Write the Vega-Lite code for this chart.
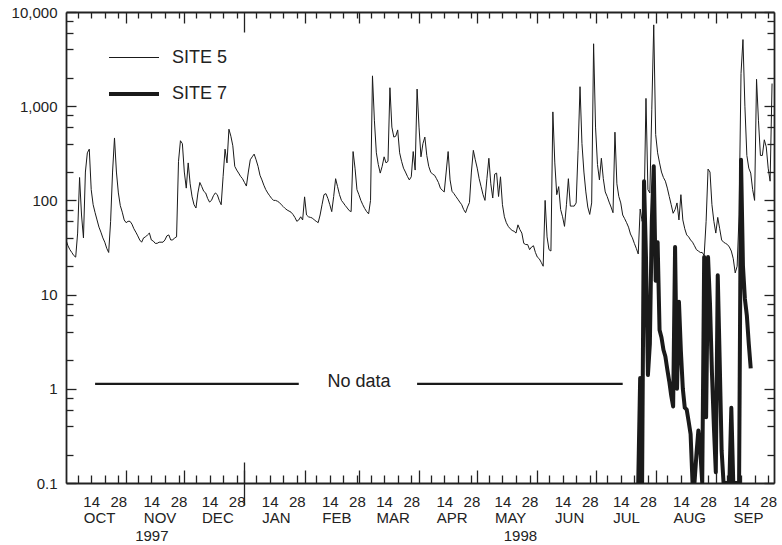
{
  "$schema": "https://vega.github.io/schema/vega-lite/v6.json",
  "width": 708,
  "height": 471,
  "autosize": {"type": "none"},
  "padding": {"left": 66, "top": 12, "right": 8, "bottom": 62},
  "background": "white",
  "config": {
    "view": {"stroke": null},
    "font": "Liberation Sans",
    "axis": {
      "grid": false,
      "domainColor": "#222",
      "domainWidth": 1.8,
      "tickColor": "#222",
      "tickWidth": 1.3,
      "labelColor": "#222",
      "labelFont": "Liberation Sans",
      "labelFontSize": 15,
      "labelFlush": false,
      "labelOverlap": false
    }
  },
  "datasets": {
    "flow": [
      {"date":"1997-10-01","site":"SITE 5","value":38},{"date":"1997-10-02","site":"SITE 5","value":33},{"date":"1997-10-03","site":"SITE 5","value":30},{"date":"1997-10-04","site":"SITE 5","value":28},{"date":"1997-10-05","site":"SITE 5","value":26},{"date":"1997-10-06","site":"SITE 5","value":25},{"date":"1997-10-07","site":"SITE 5","value":45},{"date":"1997-10-08","site":"SITE 5","value":175},{"date":"1997-10-09","site":"SITE 5","value":70},{"date":"1997-10-10","site":"SITE 5","value":40},{"date":"1997-10-11","site":"SITE 5","value":200},{"date":"1997-10-12","site":"SITE 5","value":320},{"date":"1997-10-13","site":"SITE 5","value":350},{"date":"1997-10-14","site":"SITE 5","value":130},{"date":"1997-10-15","site":"SITE 5","value":90},{"date":"1997-10-16","site":"SITE 5","value":74},{"date":"1997-10-17","site":"SITE 5","value":62},{"date":"1997-10-18","site":"SITE 5","value":52},{"date":"1997-10-19","site":"SITE 5","value":46},{"date":"1997-10-20","site":"SITE 5","value":40},{"date":"1997-10-21","site":"SITE 5","value":36},{"date":"1997-10-22","site":"SITE 5","value":31},{"date":"1997-10-23","site":"SITE 5","value":28},{"date":"1997-10-24","site":"SITE 5","value":60},{"date":"1997-10-25","site":"SITE 5","value":200},{"date":"1997-10-26","site":"SITE 5","value":460},{"date":"1997-10-27","site":"SITE 5","value":200},{"date":"1997-10-28","site":"SITE 5","value":120},{"date":"1997-10-29","site":"SITE 5","value":88},{"date":"1997-10-30","site":"SITE 5","value":75},{"date":"1997-10-31","site":"SITE 5","value":62},
      {"date":"1997-11-01","site":"SITE 5","value":58},{"date":"1997-11-02","site":"SITE 5","value":60},{"date":"1997-11-03","site":"SITE 5","value":60},{"date":"1997-11-04","site":"SITE 5","value":56},{"date":"1997-11-05","site":"SITE 5","value":50},{"date":"1997-11-06","site":"SITE 5","value":46},{"date":"1997-11-07","site":"SITE 5","value":42},{"date":"1997-11-08","site":"SITE 5","value":38},{"date":"1997-11-09","site":"SITE 5","value":36},{"date":"1997-11-10","site":"SITE 5","value":40},{"date":"1997-11-11","site":"SITE 5","value":41},{"date":"1997-11-12","site":"SITE 5","value":43},{"date":"1997-11-13","site":"SITE 5","value":45},{"date":"1997-11-14","site":"SITE 5","value":38},{"date":"1997-11-15","site":"SITE 5","value":37},{"date":"1997-11-16","site":"SITE 5","value":35},{"date":"1997-11-17","site":"SITE 5","value":35},{"date":"1997-11-18","site":"SITE 5","value":36},{"date":"1997-11-19","site":"SITE 5","value":36},{"date":"1997-11-20","site":"SITE 5","value":36},{"date":"1997-11-21","site":"SITE 5","value":38},{"date":"1997-11-22","site":"SITE 5","value":42},{"date":"1997-11-23","site":"SITE 5","value":43},{"date":"1997-11-24","site":"SITE 5","value":38},{"date":"1997-11-25","site":"SITE 5","value":38},{"date":"1997-11-26","site":"SITE 5","value":40},{"date":"1997-11-27","site":"SITE 5","value":41},{"date":"1997-11-28","site":"SITE 5","value":260},{"date":"1997-11-29","site":"SITE 5","value":430},{"date":"1997-11-30","site":"SITE 5","value":400},
      {"date":"1997-12-01","site":"SITE 5","value":200},{"date":"1997-12-02","site":"SITE 5","value":135},{"date":"1997-12-03","site":"SITE 5","value":250},{"date":"1997-12-04","site":"SITE 5","value":150},{"date":"1997-12-05","site":"SITE 5","value":109},{"date":"1997-12-06","site":"SITE 5","value":90},{"date":"1997-12-07","site":"SITE 5","value":83},{"date":"1997-12-08","site":"SITE 5","value":120},{"date":"1997-12-09","site":"SITE 5","value":155},{"date":"1997-12-10","site":"SITE 5","value":140},{"date":"1997-12-11","site":"SITE 5","value":125},{"date":"1997-12-12","site":"SITE 5","value":120},{"date":"1997-12-13","site":"SITE 5","value":105},{"date":"1997-12-14","site":"SITE 5","value":96},{"date":"1997-12-15","site":"SITE 5","value":100},{"date":"1997-12-16","site":"SITE 5","value":112},{"date":"1997-12-17","site":"SITE 5","value":120},{"date":"1997-12-18","site":"SITE 5","value":115},{"date":"1997-12-19","site":"SITE 5","value":100},{"date":"1997-12-20","site":"SITE 5","value":90},{"date":"1997-12-21","site":"SITE 5","value":180},{"date":"1997-12-22","site":"SITE 5","value":350},{"date":"1997-12-23","site":"SITE 5","value":250},{"date":"1997-12-24","site":"SITE 5","value":570},{"date":"1997-12-25","site":"SITE 5","value":480},{"date":"1997-12-26","site":"SITE 5","value":380},{"date":"1997-12-27","site":"SITE 5","value":230},{"date":"1997-12-28","site":"SITE 5","value":210},{"date":"1997-12-29","site":"SITE 5","value":195},{"date":"1997-12-30","site":"SITE 5","value":180},{"date":"1997-12-31","site":"SITE 5","value":170},
      {"date":"1998-01-01","site":"SITE 5","value":155},{"date":"1998-01-02","site":"SITE 5","value":142},{"date":"1998-01-03","site":"SITE 5","value":200},{"date":"1998-01-04","site":"SITE 5","value":270},{"date":"1998-01-05","site":"SITE 5","value":290},{"date":"1998-01-06","site":"SITE 5","value":310},{"date":"1998-01-07","site":"SITE 5","value":270},{"date":"1998-01-08","site":"SITE 5","value":230},{"date":"1998-01-09","site":"SITE 5","value":185},{"date":"1998-01-10","site":"SITE 5","value":165},{"date":"1998-01-11","site":"SITE 5","value":145},{"date":"1998-01-12","site":"SITE 5","value":130},{"date":"1998-01-13","site":"SITE 5","value":120},{"date":"1998-01-14","site":"SITE 5","value":112},{"date":"1998-01-15","site":"SITE 5","value":105},{"date":"1998-01-16","site":"SITE 5","value":100},{"date":"1998-01-17","site":"SITE 5","value":100},{"date":"1998-01-18","site":"SITE 5","value":98},{"date":"1998-01-19","site":"SITE 5","value":95},{"date":"1998-01-20","site":"SITE 5","value":90},{"date":"1998-01-21","site":"SITE 5","value":86},{"date":"1998-01-22","site":"SITE 5","value":82},{"date":"1998-01-23","site":"SITE 5","value":79},{"date":"1998-01-24","site":"SITE 5","value":77},{"date":"1998-01-25","site":"SITE 5","value":75},{"date":"1998-01-26","site":"SITE 5","value":71},{"date":"1998-01-27","site":"SITE 5","value":66},{"date":"1998-01-28","site":"SITE 5","value":60},{"date":"1998-01-29","site":"SITE 5","value":62},{"date":"1998-01-30","site":"SITE 5","value":67},{"date":"1998-01-31","site":"SITE 5","value":62},
      {"date":"1998-02-01","site":"SITE 5","value":109},{"date":"1998-02-02","site":"SITE 5","value":70},{"date":"1998-02-03","site":"SITE 5","value":67},{"date":"1998-02-04","site":"SITE 5","value":66},{"date":"1998-02-05","site":"SITE 5","value":65},{"date":"1998-02-06","site":"SITE 5","value":62},{"date":"1998-02-07","site":"SITE 5","value":60},{"date":"1998-02-08","site":"SITE 5","value":58},{"date":"1998-02-09","site":"SITE 5","value":70},{"date":"1998-02-10","site":"SITE 5","value":90},{"date":"1998-02-11","site":"SITE 5","value":115},{"date":"1998-02-12","site":"SITE 5","value":118},{"date":"1998-02-13","site":"SITE 5","value":105},{"date":"1998-02-14","site":"SITE 5","value":90},{"date":"1998-02-15","site":"SITE 5","value":76},{"date":"1998-02-16","site":"SITE 5","value":110},{"date":"1998-02-17","site":"SITE 5","value":170},{"date":"1998-02-18","site":"SITE 5","value":140},{"date":"1998-02-19","site":"SITE 5","value":115},{"date":"1998-02-20","site":"SITE 5","value":100},{"date":"1998-02-21","site":"SITE 5","value":94},{"date":"1998-02-22","site":"SITE 5","value":88},{"date":"1998-02-23","site":"SITE 5","value":83},{"date":"1998-02-24","site":"SITE 5","value":78},{"date":"1998-02-25","site":"SITE 5","value":76},{"date":"1998-02-26","site":"SITE 5","value":330},{"date":"1998-02-27","site":"SITE 5","value":220},{"date":"1998-02-28","site":"SITE 5","value":130},
      {"date":"1998-03-01","site":"SITE 5","value":115},{"date":"1998-03-02","site":"SITE 5","value":100},{"date":"1998-03-03","site":"SITE 5","value":90},{"date":"1998-03-04","site":"SITE 5","value":82},{"date":"1998-03-05","site":"SITE 5","value":76},{"date":"1998-03-06","site":"SITE 5","value":72},{"date":"1998-03-07","site":"SITE 5","value":100},{"date":"1998-03-08","site":"SITE 5","value":2100},{"date":"1998-03-09","site":"SITE 5","value":700},{"date":"1998-03-10","site":"SITE 5","value":320},{"date":"1998-03-11","site":"SITE 5","value":240},{"date":"1998-03-12","site":"SITE 5","value":195},{"date":"1998-03-13","site":"SITE 5","value":230},{"date":"1998-03-14","site":"SITE 5","value":290},{"date":"1998-03-15","site":"SITE 5","value":250},{"date":"1998-03-16","site":"SITE 5","value":260},{"date":"1998-03-17","site":"SITE 5","value":1570},{"date":"1998-03-18","site":"SITE 5","value":600},{"date":"1998-03-19","site":"SITE 5","value":470},{"date":"1998-03-20","site":"SITE 5","value":480},{"date":"1998-03-21","site":"SITE 5","value":560},{"date":"1998-03-22","site":"SITE 5","value":320},{"date":"1998-03-23","site":"SITE 5","value":260},{"date":"1998-03-24","site":"SITE 5","value":220},{"date":"1998-03-25","site":"SITE 5","value":200},{"date":"1998-03-26","site":"SITE 5","value":180},{"date":"1998-03-27","site":"SITE 5","value":165},{"date":"1998-03-28","site":"SITE 5","value":178},{"date":"1998-03-29","site":"SITE 5","value":330},{"date":"1998-03-30","site":"SITE 5","value":210},{"date":"1998-03-31","site":"SITE 5","value":1520},
      {"date":"1998-04-01","site":"SITE 5","value":600},{"date":"1998-04-02","site":"SITE 5","value":290},{"date":"1998-04-03","site":"SITE 5","value":400},{"date":"1998-04-04","site":"SITE 5","value":470},{"date":"1998-04-05","site":"SITE 5","value":300},{"date":"1998-04-06","site":"SITE 5","value":230},{"date":"1998-04-07","site":"SITE 5","value":200},{"date":"1998-04-08","site":"SITE 5","value":190},{"date":"1998-04-09","site":"SITE 5","value":185},{"date":"1998-04-10","site":"SITE 5","value":170},{"date":"1998-04-11","site":"SITE 5","value":155},{"date":"1998-04-12","site":"SITE 5","value":135},{"date":"1998-04-13","site":"SITE 5","value":128},{"date":"1998-04-14","site":"SITE 5","value":123},{"date":"1998-04-15","site":"SITE 5","value":200},{"date":"1998-04-16","site":"SITE 5","value":330},{"date":"1998-04-17","site":"SITE 5","value":165},{"date":"1998-04-18","site":"SITE 5","value":125},{"date":"1998-04-19","site":"SITE 5","value":118},{"date":"1998-04-20","site":"SITE 5","value":110},{"date":"1998-04-21","site":"SITE 5","value":103},{"date":"1998-04-22","site":"SITE 5","value":96},{"date":"1998-04-23","site":"SITE 5","value":90},{"date":"1998-04-24","site":"SITE 5","value":80},{"date":"1998-04-25","site":"SITE 5","value":74},{"date":"1998-04-26","site":"SITE 5","value":85},{"date":"1998-04-27","site":"SITE 5","value":95},{"date":"1998-04-28","site":"SITE 5","value":200},{"date":"1998-04-29","site":"SITE 5","value":340},{"date":"1998-04-30","site":"SITE 5","value":270},
      {"date":"1998-05-01","site":"SITE 5","value":220},{"date":"1998-05-02","site":"SITE 5","value":170},{"date":"1998-05-03","site":"SITE 5","value":140},{"date":"1998-05-04","site":"SITE 5","value":115},{"date":"1998-05-05","site":"SITE 5","value":100},{"date":"1998-05-06","site":"SITE 5","value":170},{"date":"1998-05-07","site":"SITE 5","value":280},{"date":"1998-05-08","site":"SITE 5","value":150},{"date":"1998-05-09","site":"SITE 5","value":106},{"date":"1998-05-10","site":"SITE 5","value":190},{"date":"1998-05-11","site":"SITE 5","value":195},{"date":"1998-05-12","site":"SITE 5","value":110},{"date":"1998-05-13","site":"SITE 5","value":178},{"date":"1998-05-14","site":"SITE 5","value":90},{"date":"1998-05-15","site":"SITE 5","value":67},{"date":"1998-05-16","site":"SITE 5","value":58},{"date":"1998-05-17","site":"SITE 5","value":53},{"date":"1998-05-18","site":"SITE 5","value":50},{"date":"1998-05-19","site":"SITE 5","value":48},{"date":"1998-05-20","site":"SITE 5","value":47},{"date":"1998-05-21","site":"SITE 5","value":45},{"date":"1998-05-22","site":"SITE 5","value":55},{"date":"1998-05-23","site":"SITE 5","value":49},{"date":"1998-05-24","site":"SITE 5","value":45},{"date":"1998-05-25","site":"SITE 5","value":35},{"date":"1998-05-26","site":"SITE 5","value":34},{"date":"1998-05-27","site":"SITE 5","value":34},{"date":"1998-05-28","site":"SITE 5","value":30},{"date":"1998-05-29","site":"SITE 5","value":32},{"date":"1998-05-30","site":"SITE 5","value":33},{"date":"1998-05-31","site":"SITE 5","value":28},
      {"date":"1998-06-01","site":"SITE 5","value":25},{"date":"1998-06-02","site":"SITE 5","value":24},{"date":"1998-06-03","site":"SITE 5","value":22},{"date":"1998-06-04","site":"SITE 5","value":20},{"date":"1998-06-05","site":"SITE 5","value":100},{"date":"1998-06-06","site":"SITE 5","value":41},{"date":"1998-06-07","site":"SITE 5","value":30},{"date":"1998-06-08","site":"SITE 5","value":29},{"date":"1998-06-09","site":"SITE 5","value":870},{"date":"1998-06-10","site":"SITE 5","value":250},{"date":"1998-06-11","site":"SITE 5","value":115},{"date":"1998-06-12","site":"SITE 5","value":140},{"date":"1998-06-13","site":"SITE 5","value":80},{"date":"1998-06-14","site":"SITE 5","value":67},{"date":"1998-06-15","site":"SITE 5","value":53},{"date":"1998-06-16","site":"SITE 5","value":90},{"date":"1998-06-17","site":"SITE 5","value":170},{"date":"1998-06-18","site":"SITE 5","value":87},{"date":"1998-06-19","site":"SITE 5","value":87},{"date":"1998-06-20","site":"SITE 5","value":87},{"date":"1998-06-21","site":"SITE 5","value":94},{"date":"1998-06-22","site":"SITE 5","value":340},{"date":"1998-06-23","site":"SITE 5","value":1610},{"date":"1998-06-24","site":"SITE 5","value":400},{"date":"1998-06-25","site":"SITE 5","value":200},{"date":"1998-06-26","site":"SITE 5","value":123},{"date":"1998-06-27","site":"SITE 5","value":85},{"date":"1998-06-28","site":"SITE 5","value":71},{"date":"1998-06-29","site":"SITE 5","value":94},{"date":"1998-06-30","site":"SITE 5","value":4600},
      {"date":"1998-07-01","site":"SITE 5","value":600},{"date":"1998-07-02","site":"SITE 5","value":240},{"date":"1998-07-03","site":"SITE 5","value":165},{"date":"1998-07-04","site":"SITE 5","value":280},{"date":"1998-07-05","site":"SITE 5","value":170},{"date":"1998-07-06","site":"SITE 5","value":123},{"date":"1998-07-07","site":"SITE 5","value":110},{"date":"1998-07-08","site":"SITE 5","value":96},{"date":"1998-07-09","site":"SITE 5","value":85},{"date":"1998-07-10","site":"SITE 5","value":74},{"date":"1998-07-11","site":"SITE 5","value":530},{"date":"1998-07-12","site":"SITE 5","value":150},{"date":"1998-07-13","site":"SITE 5","value":110},{"date":"1998-07-14","site":"SITE 5","value":94},{"date":"1998-07-15","site":"SITE 5","value":70},{"date":"1998-07-16","site":"SITE 5","value":64},{"date":"1998-07-17","site":"SITE 5","value":58},{"date":"1998-07-18","site":"SITE 5","value":52},{"date":"1998-07-19","site":"SITE 5","value":44},{"date":"1998-07-20","site":"SITE 5","value":40},{"date":"1998-07-21","site":"SITE 5","value":35},{"date":"1998-07-22","site":"SITE 5","value":31},{"date":"1998-07-23","site":"SITE 5","value":27},{"date":"1998-07-24","site":"SITE 5","value":81},{"date":"1998-07-25","site":"SITE 5","value":60},{"date":"1998-07-26","site":"SITE 5","value":73},{"date":"1998-07-27","site":"SITE 5","value":1210},{"date":"1998-07-28","site":"SITE 5","value":130},{"date":"1998-07-29","site":"SITE 5","value":120},{"date":"1998-07-30","site":"SITE 5","value":930},{"date":"1998-07-31","site":"SITE 5","value":7300},
      {"date":"1998-08-01","site":"SITE 5","value":500},{"date":"1998-08-02","site":"SITE 5","value":320},{"date":"1998-08-03","site":"SITE 5","value":250},{"date":"1998-08-04","site":"SITE 5","value":200},{"date":"1998-08-05","site":"SITE 5","value":175},{"date":"1998-08-06","site":"SITE 5","value":160},{"date":"1998-08-07","site":"SITE 5","value":135},{"date":"1998-08-08","site":"SITE 5","value":110},{"date":"1998-08-09","site":"SITE 5","value":90},{"date":"1998-08-10","site":"SITE 5","value":73},{"date":"1998-08-11","site":"SITE 5","value":80},{"date":"1998-08-12","site":"SITE 5","value":94},{"date":"1998-08-13","site":"SITE 5","value":62},{"date":"1998-08-14","site":"SITE 5","value":115},{"date":"1998-08-15","site":"SITE 5","value":62},{"date":"1998-08-16","site":"SITE 5","value":50},{"date":"1998-08-17","site":"SITE 5","value":43},{"date":"1998-08-18","site":"SITE 5","value":41},{"date":"1998-08-19","site":"SITE 5","value":38},{"date":"1998-08-20","site":"SITE 5","value":36},{"date":"1998-08-21","site":"SITE 5","value":33},{"date":"1998-08-22","site":"SITE 5","value":30},{"date":"1998-08-23","site":"SITE 5","value":29},{"date":"1998-08-24","site":"SITE 5","value":28},{"date":"1998-08-25","site":"SITE 5","value":28},{"date":"1998-08-26","site":"SITE 5","value":26},{"date":"1998-08-27","site":"SITE 5","value":60},{"date":"1998-08-28","site":"SITE 5","value":215},{"date":"1998-08-29","site":"SITE 5","value":200},{"date":"1998-08-30","site":"SITE 5","value":90},{"date":"1998-08-31","site":"SITE 5","value":60},
      {"date":"1998-09-01","site":"SITE 5","value":45},{"date":"1998-09-02","site":"SITE 5","value":66},{"date":"1998-09-03","site":"SITE 5","value":50},{"date":"1998-09-04","site":"SITE 5","value":38},{"date":"1998-09-05","site":"SITE 5","value":36},{"date":"1998-09-06","site":"SITE 5","value":35},{"date":"1998-09-07","site":"SITE 5","value":34},{"date":"1998-09-08","site":"SITE 5","value":32},{"date":"1998-09-09","site":"SITE 5","value":29},{"date":"1998-09-10","site":"SITE 5","value":24},{"date":"1998-09-11","site":"SITE 5","value":17},{"date":"1998-09-12","site":"SITE 5","value":20},{"date":"1998-09-13","site":"SITE 5","value":70},{"date":"1998-09-14","site":"SITE 5","value":2230},{"date":"1998-09-15","site":"SITE 5","value":5100},{"date":"1998-09-16","site":"SITE 5","value":1000},{"date":"1998-09-17","site":"SITE 5","value":300},{"date":"1998-09-18","site":"SITE 5","value":220},{"date":"1998-09-19","site":"SITE 5","value":195},{"date":"1998-09-20","site":"SITE 5","value":130},{"date":"1998-09-21","site":"SITE 5","value":100},{"date":"1998-09-22","site":"SITE 5","value":1930},{"date":"1998-09-23","site":"SITE 5","value":700},{"date":"1998-09-24","site":"SITE 5","value":300},{"date":"1998-09-25","site":"SITE 5","value":300},{"date":"1998-09-26","site":"SITE 5","value":440},{"date":"1998-09-27","site":"SITE 5","value":370},{"date":"1998-09-28","site":"SITE 5","value":220},{"date":"1998-09-29","site":"SITE 5","value":160},{"date":"1998-09-30","site":"SITE 5","value":1740},
      {"date":"1998-07-23","site":"SITE 7","value":0.05},{"date":"1998-07-24","site":"SITE 7","value":1.3},{"date":"1998-07-25","site":"SITE 7","value":0.05},{"date":"1998-07-26","site":"SITE 7","value":160},{"date":"1998-07-27","site":"SITE 7","value":25},{"date":"1998-07-28","site":"SITE 7","value":1.4},{"date":"1998-07-29","site":"SITE 7","value":3},{"date":"1998-07-30","site":"SITE 7","value":60},{"date":"1998-07-31","site":"SITE 7","value":230},
      {"date":"1998-08-01","site":"SITE 7","value":14},{"date":"1998-08-02","site":"SITE 7","value":36},{"date":"1998-08-03","site":"SITE 7","value":4.2},{"date":"1998-08-04","site":"SITE 7","value":3.5},{"date":"1998-08-05","site":"SITE 7","value":2.6},{"date":"1998-08-06","site":"SITE 7","value":2.2},{"date":"1998-08-07","site":"SITE 7","value":1.6},{"date":"1998-08-08","site":"SITE 7","value":1.2},{"date":"1998-08-09","site":"SITE 7","value":0.85},{"date":"1998-08-10","site":"SITE 7","value":0.65},{"date":"1998-08-11","site":"SITE 7","value":32},{"date":"1998-08-12","site":"SITE 7","value":1.0},{"date":"1998-08-13","site":"SITE 7","value":8.4},{"date":"1998-08-14","site":"SITE 7","value":2.5},{"date":"1998-08-15","site":"SITE 7","value":1.0},{"date":"1998-08-16","site":"SITE 7","value":0.63},{"date":"1998-08-17","site":"SITE 7","value":0.6},{"date":"1998-08-18","site":"SITE 7","value":0.45},{"date":"1998-08-19","site":"SITE 7","value":0.33},{"date":"1998-08-20","site":"SITE 7","value":0.05},{"date":"1998-08-21","site":"SITE 7","value":0.05},{"date":"1998-08-22","site":"SITE 7","value":0.2},{"date":"1998-08-23","site":"SITE 7","value":0.36},{"date":"1998-08-24","site":"SITE 7","value":0.22},{"date":"1998-08-25","site":"SITE 7","value":0.05},{"date":"1998-08-26","site":"SITE 7","value":25},{"date":"1998-08-27","site":"SITE 7","value":0.5},{"date":"1998-08-28","site":"SITE 7","value":25},{"date":"1998-08-29","site":"SITE 7","value":8},{"date":"1998-08-30","site":"SITE 7","value":1.5},{"date":"1998-08-31","site":"SITE 7","value":0.4},
      {"date":"1998-09-01","site":"SITE 7","value":0.13},{"date":"1998-09-02","site":"SITE 7","value":16},{"date":"1998-09-03","site":"SITE 7","value":2},{"date":"1998-09-04","site":"SITE 7","value":0.22},{"date":"1998-09-05","site":"SITE 7","value":0.05},{"date":"1998-09-06","site":"SITE 7","value":0.05},{"date":"1998-09-07","site":"SITE 7","value":0.05},{"date":"1998-09-08","site":"SITE 7","value":0.05},{"date":"1998-09-09","site":"SITE 7","value":0.63},{"date":"1998-09-10","site":"SITE 7","value":0.05},{"date":"1998-09-11","site":"SITE 7","value":0.05},{"date":"1998-09-12","site":"SITE 7","value":0.05},{"date":"1998-09-13","site":"SITE 7","value":0.05},{"date":"1998-09-14","site":"SITE 7","value":270},{"date":"1998-09-15","site":"SITE 7","value":20},{"date":"1998-09-16","site":"SITE 7","value":9},{"date":"1998-09-17","site":"SITE 7","value":6},{"date":"1998-09-18","site":"SITE 7","value":3},{"date":"1998-09-19","site":"SITE 7","value":1.65}
    ],
    "gaps": [
      {"start": "1997-10-16", "end": "1998-01-29", "value": 1.13},
      {"start": "1998-03-31", "end": "1998-07-15", "value": 1.13}
    ],
    "note": [
      {"date": "1998-03-01", "value": 1.13, "label": "No data"}
    ]
  },
  "layer": [
    {
      "data": {"name": "flow"},
      "mark": {"type": "line", "color": "#1a1a1a", "strokeJoin": "round", "clip": true},
      "encoding": {
        "x": {
          "field": "date", "type": "temporal",
          "scale": {"type": "utc", "domain": [{"year": 1997, "month": 10, "date": 1, "utc": true}, {"year": 1998, "month": 10, "date": 1, "utc": true}]},
          "axis": {
            "orient": "bottom", "title": null, "domain": true, "tickSize": -8, "labelPadding": 19,
            "labelExpr": "(utcdate(datum.value) == 14 || utcdate(datum.value) == 28) ? utcFormat(datum.value, '%d') : ''",
            "values": [
              {"year":1997,"month":10,"date":7,"utc":true},{"year":1997,"month":10,"date":14,"utc":true},{"year":1997,"month":10,"date":21,"utc":true},{"year":1997,"month":10,"date":28,"utc":true},
              {"year":1997,"month":11,"date":7,"utc":true},{"year":1997,"month":11,"date":14,"utc":true},{"year":1997,"month":11,"date":21,"utc":true},{"year":1997,"month":11,"date":28,"utc":true},
              {"year":1997,"month":12,"date":7,"utc":true},{"year":1997,"month":12,"date":14,"utc":true},{"year":1997,"month":12,"date":21,"utc":true},{"year":1997,"month":12,"date":28,"utc":true},
              {"year":1998,"month":1,"date":7,"utc":true},{"year":1998,"month":1,"date":14,"utc":true},{"year":1998,"month":1,"date":21,"utc":true},{"year":1998,"month":1,"date":28,"utc":true},
              {"year":1998,"month":2,"date":7,"utc":true},{"year":1998,"month":2,"date":14,"utc":true},{"year":1998,"month":2,"date":21,"utc":true},{"year":1998,"month":2,"date":28,"utc":true},
              {"year":1998,"month":3,"date":7,"utc":true},{"year":1998,"month":3,"date":14,"utc":true},{"year":1998,"month":3,"date":21,"utc":true},{"year":1998,"month":3,"date":28,"utc":true},
              {"year":1998,"month":4,"date":7,"utc":true},{"year":1998,"month":4,"date":14,"utc":true},{"year":1998,"month":4,"date":21,"utc":true},{"year":1998,"month":4,"date":28,"utc":true},
              {"year":1998,"month":5,"date":7,"utc":true},{"year":1998,"month":5,"date":14,"utc":true},{"year":1998,"month":5,"date":21,"utc":true},{"year":1998,"month":5,"date":28,"utc":true},
              {"year":1998,"month":6,"date":7,"utc":true},{"year":1998,"month":6,"date":14,"utc":true},{"year":1998,"month":6,"date":21,"utc":true},{"year":1998,"month":6,"date":28,"utc":true},
              {"year":1998,"month":7,"date":7,"utc":true},{"year":1998,"month":7,"date":14,"utc":true},{"year":1998,"month":7,"date":21,"utc":true},{"year":1998,"month":7,"date":28,"utc":true},
              {"year":1998,"month":8,"date":7,"utc":true},{"year":1998,"month":8,"date":14,"utc":true},{"year":1998,"month":8,"date":21,"utc":true},{"year":1998,"month":8,"date":28,"utc":true},
              {"year":1998,"month":9,"date":7,"utc":true},{"year":1998,"month":9,"date":14,"utc":true},{"year":1998,"month":9,"date":21,"utc":true},{"year":1998,"month":9,"date":28,"utc":true}
            ]
          }
        },
        "y": {
          "field": "value", "type": "quantitative",
          "scale": {"type": "log", "domain": [0.1, 10000], "nice": false, "clamp": true},
          "axis": {"orient": "left", "title": null, "domain": true, "tickSize": -10, "labelPadding": 19, "format": ",", "values": [0.1, 1, 10, 100, 1000, 10000]}
        },
        "strokeWidth": {
          "field": "site", "type": "ordinal",
          "scale": {"domain": ["SITE 5", "SITE 7"], "range": [1, 4], "padding": 0},
          "legend": {
            "title": null, "orient": "none", "legendX": 41, "legendY": 20, "padding": 0,
            "symbolType": "stroke", "symbolSize": 2500, "symbolStrokeColor": "#1a1a1a",
            "labelFont": "Liberation Sans", "labelFontSize": 18, "labelColor": "#222",
            "labelOffset": 11, "rowPadding": -16
          }
        }
      }
    },
    {
      "data": {"name": "gaps"},
      "mark": {"type": "rule", "color": "#1a1a1a", "strokeWidth": 2.2},
      "encoding": {
        "x": {
          "field": "start", "type": "temporal",
          "scale": {"type": "utc", "domain": [{"year": 1997, "month": 10, "date": 1, "utc": true}, {"year": 1998, "month": 10, "date": 1, "utc": true}]},
          "axis": {
            "orient": "bottom", "title": null, "domain": false, "labels": false, "tickSize": -13,
            "values": [
              {"year":1997,"month":11,"date":1,"utc":true},{"year":1997,"month":12,"date":1,"utc":true},
              {"year":1998,"month":1,"date":1,"utc":true},{"year":1998,"month":2,"date":1,"utc":true},{"year":1998,"month":3,"date":1,"utc":true},
              {"year":1998,"month":4,"date":1,"utc":true},{"year":1998,"month":5,"date":1,"utc":true},{"year":1998,"month":6,"date":1,"utc":true},
              {"year":1998,"month":7,"date":1,"utc":true},{"year":1998,"month":8,"date":1,"utc":true},{"year":1998,"month":9,"date":1,"utc":true}
            ]
          }
        },
        "x2": {"field": "end"},
        "y": {
          "field": "value", "type": "quantitative",
          "scale": {"type": "log", "domain": [0.1, 10000], "nice": false, "clamp": true},
          "axis": {"orient": "left", "title": null, "domain": false, "labels": false, "tickSize": -7, "values": [0.2, 0.4, 0.6, 0.8, 2, 4, 6, 8, 20, 40, 60, 80, 200, 400, 600, 800, 2000, 4000, 6000, 8000]}
        }
      }
    },
    {
      "data": {"name": "note"},
      "mark": {"type": "text", "font": "Liberation Sans", "fontSize": 18, "color": "#222", "align": "center", "baseline": "middle", "dy": -2},
      "encoding": {
        "x": {
          "field": "date", "type": "temporal",
          "scale": {"type": "utc", "domain": [{"year": 1997, "month": 10, "date": 1, "utc": true}, {"year": 1998, "month": 10, "date": 1, "utc": true}]},
          "axis": {"orient": "bottom", "title": null, "domain": false, "labels": false, "tickSize": -21, "values": [{"year": 1998, "month": 1, "date": 1, "utc": true}]}
        },
        "y": {
          "field": "value", "type": "quantitative",
          "scale": {"type": "log", "domain": [0.1, 10000], "nice": false, "clamp": true},
          "axis": {"orient": "right", "title": null, "domain": true, "labels": false, "tickSize": -10, "values": [0.1, 1, 10, 100, 1000, 10000]}
        },
        "text": {"field": "label"}
      }
    },
    {
      "data": {"name": "note"},
      "mark": {"type": "point", "opacity": 0},
      "encoding": {
        "x": {
          "field": "date", "type": "temporal",
          "scale": {"type": "utc", "domain": [{"year": 1997, "month": 10, "date": 1, "utc": true}, {"year": 1998, "month": 10, "date": 1, "utc": true}]},
          "axis": {"orient": "bottom", "title": null, "domain": false, "labels": false, "tickSize": 22, "values": [{"year": 1998, "month": 1, "date": 1, "utc": true}]}
        },
        "y": {
          "field": "value", "type": "quantitative",
          "scale": {"type": "log", "domain": [0.1, 10000], "nice": false, "clamp": true},
          "axis": {"orient": "right", "title": null, "domain": false, "labels": false, "tickSize": -7, "values": [0.2, 0.4, 0.6, 0.8, 2, 4, 6, 8, 20, 40, 60, 80, 200, 400, 600, 800, 2000, 4000, 6000, 8000]}
        }
      }
    },
    {
      "data": {"name": "note"},
      "mark": {"type": "point", "opacity": 0},
      "encoding": {
        "x": {
          "field": "date", "type": "temporal",
          "scale": {"type": "utc", "domain": [{"year": 1997, "month": 10, "date": 1, "utc": true}, {"year": 1998, "month": 10, "date": 1, "utc": true}]},
          "axis": {
            "orient": "bottom", "title": null, "domain": false, "ticks": false, "tickSize": 0, "labelPadding": 27,
            "labelAlign": "left", "labelOffset": -8, "labelExpr": "upper(utcFormat(datum.value, '%b'))",
            "values": [
              {"year":1997,"month":10,"date":14,"utc":true},{"year":1997,"month":11,"date":14,"utc":true},{"year":1997,"month":12,"date":14,"utc":true},
              {"year":1998,"month":1,"date":14,"utc":true},{"year":1998,"month":2,"date":14,"utc":true},{"year":1998,"month":3,"date":14,"utc":true},
              {"year":1998,"month":4,"date":14,"utc":true},{"year":1998,"month":5,"date":14,"utc":true},{"year":1998,"month":6,"date":14,"utc":true},
              {"year":1998,"month":7,"date":14,"utc":true},{"year":1998,"month":8,"date":14,"utc":true},{"year":1998,"month":9,"date":14,"utc":true}
            ]
          }
        },
        "y": {"field": "value", "type": "quantitative", "scale": {"type": "log", "domain": [0.1, 10000], "nice": false, "clamp": true}, "axis": null}
      }
    },
    {
      "data": {"name": "note"},
      "mark": {"type": "point", "opacity": 0},
      "encoding": {
        "x": {
          "field": "date", "type": "temporal",
          "scale": {"type": "utc", "domain": [{"year": 1997, "month": 10, "date": 1, "utc": true}, {"year": 1998, "month": 10, "date": 1, "utc": true}]},
          "axis": {
            "orient": "bottom", "title": null, "domain": false, "ticks": false, "tickSize": 0, "labelPadding": 45,
            "labelAlign": "center", "labelExpr": "utcFormat(datum.value, '%Y')",
            "values": [{"year": 1997, "month": 11, "date": 14, "utc": true}, {"year": 1998, "month": 5, "date": 23, "utc": true}]
          }
        },
        "y": {"field": "value", "type": "quantitative", "scale": {"type": "log", "domain": [0.1, 10000], "nice": false, "clamp": true}, "axis": null}
      }
    },
    {
      "data": {"name": "note"},
      "mark": {"type": "point", "opacity": 0},
      "encoding": {
        "x": {
          "field": "date", "type": "temporal",
          "scale": {"type": "utc", "domain": [{"year": 1997, "month": 10, "date": 1, "utc": true}, {"year": 1998, "month": 10, "date": 1, "utc": true}]},
          "axis": {
            "orient": "top", "title": null, "domain": true, "labels": false, "tickSize": -6,
            "values": [
              {"year":1997,"month":10,"date":7,"utc":true},{"year":1997,"month":10,"date":14,"utc":true},{"year":1997,"month":10,"date":21,"utc":true},{"year":1997,"month":10,"date":28,"utc":true},
              {"year":1997,"month":11,"date":7,"utc":true},{"year":1997,"month":11,"date":14,"utc":true},{"year":1997,"month":11,"date":21,"utc":true},{"year":1997,"month":11,"date":28,"utc":true},
              {"year":1997,"month":12,"date":7,"utc":true},{"year":1997,"month":12,"date":14,"utc":true},{"year":1997,"month":12,"date":21,"utc":true},{"year":1997,"month":12,"date":28,"utc":true},
              {"year":1998,"month":1,"date":7,"utc":true},{"year":1998,"month":1,"date":14,"utc":true},{"year":1998,"month":1,"date":21,"utc":true},{"year":1998,"month":1,"date":28,"utc":true},
              {"year":1998,"month":2,"date":7,"utc":true},{"year":1998,"month":2,"date":14,"utc":true},{"year":1998,"month":2,"date":21,"utc":true},{"year":1998,"month":2,"date":28,"utc":true},
              {"year":1998,"month":3,"date":7,"utc":true},{"year":1998,"month":3,"date":14,"utc":true},{"year":1998,"month":3,"date":21,"utc":true},{"year":1998,"month":3,"date":28,"utc":true},
              {"year":1998,"month":4,"date":7,"utc":true},{"year":1998,"month":4,"date":14,"utc":true},{"year":1998,"month":4,"date":21,"utc":true},{"year":1998,"month":4,"date":28,"utc":true},
              {"year":1998,"month":5,"date":7,"utc":true},{"year":1998,"month":5,"date":14,"utc":true},{"year":1998,"month":5,"date":21,"utc":true},{"year":1998,"month":5,"date":28,"utc":true},
              {"year":1998,"month":6,"date":7,"utc":true},{"year":1998,"month":6,"date":14,"utc":true},{"year":1998,"month":6,"date":21,"utc":true},{"year":1998,"month":6,"date":28,"utc":true},
              {"year":1998,"month":7,"date":7,"utc":true},{"year":1998,"month":7,"date":14,"utc":true},{"year":1998,"month":7,"date":21,"utc":true},{"year":1998,"month":7,"date":28,"utc":true},
              {"year":1998,"month":8,"date":7,"utc":true},{"year":1998,"month":8,"date":14,"utc":true},{"year":1998,"month":8,"date":21,"utc":true},{"year":1998,"month":8,"date":28,"utc":true},
              {"year":1998,"month":9,"date":7,"utc":true},{"year":1998,"month":9,"date":14,"utc":true},{"year":1998,"month":9,"date":21,"utc":true},{"year":1998,"month":9,"date":28,"utc":true}
            ]
          }
        },
        "y": {"field": "value", "type": "quantitative", "scale": {"type": "log", "domain": [0.1, 10000], "nice": false, "clamp": true}, "axis": null}
      }
    },
    {
      "data": {"name": "note"},
      "mark": {"type": "point", "opacity": 0},
      "encoding": {
        "x": {
          "field": "date", "type": "temporal",
          "scale": {"type": "utc", "domain": [{"year": 1997, "month": 10, "date": 1, "utc": true}, {"year": 1998, "month": 10, "date": 1, "utc": true}]},
          "axis": {
            "orient": "top", "title": null, "domain": false, "labels": false, "tickSize": -11,
            "values": [
              {"year":1997,"month":11,"date":1,"utc":true},{"year":1997,"month":12,"date":1,"utc":true},
              {"year":1998,"month":2,"date":1,"utc":true},{"year":1998,"month":3,"date":1,"utc":true},
              {"year":1998,"month":4,"date":1,"utc":true},{"year":1998,"month":5,"date":1,"utc":true},{"year":1998,"month":6,"date":1,"utc":true},
              {"year":1998,"month":7,"date":1,"utc":true},{"year":1998,"month":8,"date":1,"utc":true},{"year":1998,"month":9,"date":1,"utc":true}
            ]
          }
        },
        "y": {"field": "value", "type": "quantitative", "scale": {"type": "log", "domain": [0.1, 10000], "nice": false, "clamp": true}, "axis": null}
      }
    },
    {
      "data": {"name": "note"},
      "mark": {"type": "point", "opacity": 0},
      "encoding": {
        "x": {
          "field": "date", "type": "temporal",
          "scale": {"type": "utc", "domain": [{"year": 1997, "month": 10, "date": 1, "utc": true}, {"year": 1998, "month": 10, "date": 1, "utc": true}]},
          "axis": {"orient": "top", "title": null, "domain": false, "labels": false, "tickSize": -20, "values": [{"year": 1998, "month": 1, "date": 1, "utc": true}]}
        },
        "y": {"field": "value", "type": "quantitative", "scale": {"type": "log", "domain": [0.1, 10000], "nice": false, "clamp": true}, "axis": null}
      }
    }
  ],
  "resolve": {"axis": {"x": "independent", "y": "independent"}}
}
